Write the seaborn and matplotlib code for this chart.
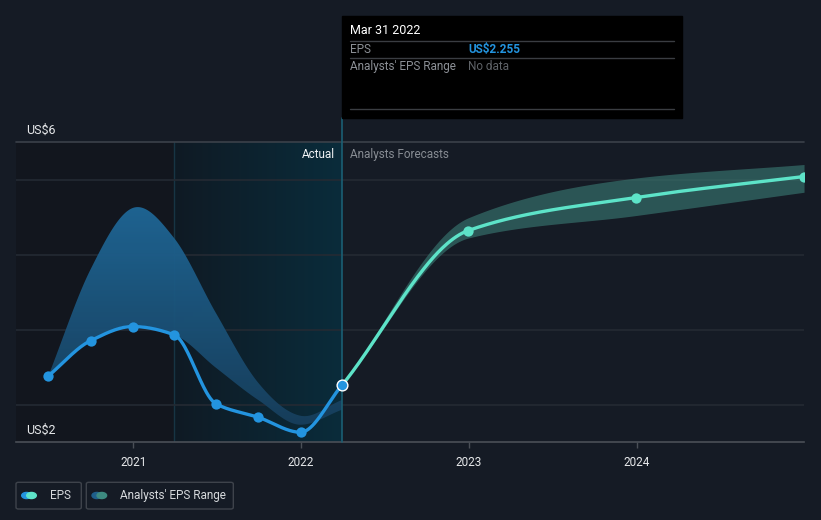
import numpy as np
import pandas as pd
import matplotlib
matplotlib.use("Agg")
import matplotlib.pyplot as plt
import seaborn as sns
from matplotlib.patches import FancyBboxPatch, Rectangle, Circle
from matplotlib.lines import Line2D
from matplotlib.colors import LinearSegmentedColormap

# ---------------- data ----------------
actual_dates = ["2020-06-30", "2020-09-30", "2020-12-31", "2021-03-31",
                "2021-06-30", "2021-09-30", "2021-12-31", "2022-03-31"]
actual_eps = [2.38, 2.85, 3.04, 2.93, 2.01, 1.83, 1.63, 2.255]

past_range_low = [2.38, 2.85, 3.06, 2.93, 2.49, 2.06, 1.73, 1.93]
past_range_high = [2.38, 3.80, 4.62, 4.22, 3.22, 2.29, 1.85, 2.06]

forecast_dates = ["2022-03-31", "2022-12-31", "2023-12-31", "2024-12-31"]
forecast_eps = [2.255, 4.32, 4.76, 5.04]
forecast_low = [2.255, 4.22, 4.52, 4.83]
forecast_high = [2.255, 4.49, 5.02, 5.20]

year_ticks = [2021, 2022, 2023, 2024]
y_labels = ["US$6", "US$2"]

# ---------------- helpers ----------------
def dec_year(s):
    t = pd.Timestamp(s)
    return t.year + (t.dayofyear - 1) / (366 if t.is_leap_year else 365)

def hermite(x, y, m, n=300):
    x = np.asarray(x, float); y = np.asarray(y, float)
    h = np.diff(x)
    xs = np.linspace(x[0], x[-1], n)
    idx = np.clip(np.searchsorted(x, xs) - 1, 0, len(x) - 2)
    t = (xs - x[idx]) / h[idx]
    h00 = 2 * t**3 - 3 * t**2 + 1; h10 = t**3 - 2 * t**2 + t
    h01 = -2 * t**3 + 3 * t**2; h11 = t**3 - t**2
    ys = h00 * y[idx] + h10 * h[idx] * m[idx] + h01 * y[idx + 1] + h11 * h[idx] * m[idx + 1]
    return xs, ys

def monotone(x, y, n=300):
    x = np.asarray(x, float); y = np.asarray(y, float)
    h = np.diff(x); d = np.diff(y) / h
    m = np.zeros_like(y)
    m[0] = d[0]; m[-1] = d[-1]
    for i in range(1, len(y) - 1):
        if d[i - 1] * d[i] <= 0:
            m[i] = 0
        else:
            w1 = 2 * h[i] + h[i - 1]; w2 = h[i] + 2 * h[i - 1]
            m[i] = (w1 + w2) / (w1 / d[i - 1] + w2 / d[i])
    return hermite(x, y, m, n)

def cardinal(x, y, n=300):
    x = np.asarray(x, float); y = np.asarray(y, float)
    m = np.zeros_like(y)
    m[1:-1] = (y[2:] - y[:-2]) / (x[2:] - x[:-2])
    m[0] = (y[1] - y[0]) / (x[1] - x[0])
    m[-1] = (y[-1] - y[-2]) / (x[-1] - x[-2])
    return hermite(x, y, m, n)

ax_x = [dec_year(d) for d in actual_dates]
fx = [dec_year(d) for d in forecast_dates]

# ---------------- figure ----------------
BG = "#151b25"
sns.set_theme(style="dark")
plt.rcParams["font.family"] = ["Roboto", "DejaVu Sans"]

fig = plt.figure(figsize=(8.21, 5.2), dpi=100, facecolor=BG)
W, H = 821, 520
ax = fig.add_axes([16 / W, 78 / H, 788 / W, 300 / H])
ax.set_facecolor(BG)
XMIN, XMAX = 2020.302, 2024.997
ax.set_xlim(XMIN, XMAX)
ax.set_ylim(1.5, 5.5)

# background regions
x_start_hl = dec_year("2021-03-31")
x_now = dec_year("2022-03-31")
ax.axvspan(XMIN, x_start_hl, color="#12161e", zorder=0, lw=0)
grad = np.linspace(0, 1, 256).reshape(1, -1)
hl_cmap = LinearSegmentedColormap.from_list("hl", ["#0f1a24", "#0a2c3b"])
ax.imshow(grad, extent=[x_start_hl, x_now, 1.5, 5.5], aspect="auto",
          cmap=hl_cmap, zorder=0.5, interpolation="bicubic")
ax.axvline(x_start_hl, color="#173544", lw=1, zorder=1)

# gridlines
for v in [2, 3, 4, 5]:
    ax.axhline(v, color="#242a33", lw=1.2, zorder=1)
ax.axhline(5.5, color="#3b414a", lw=1.2, zorder=1, clip_on=False)

# past analysts range with gradient
bx, bhi = cardinal(ax_x, past_range_high)
_, blo = monotone(ax_x, past_range_low)
poly = ax.fill_between(bx, blo, bhi, color="none", lw=0, zorder=2)
band_cmap = LinearSegmentedColormap.from_list("band", ["#173d5a", "#1f6898"])
vgrad = np.linspace(0, 1, 256).reshape(-1, 1)
im = ax.imshow(vgrad, extent=[bx[0], bx[-1], 1.6, 4.65], origin="lower",
               aspect="auto", cmap=band_cmap, zorder=2, alpha=0.95)
im.set_clip_path(poly.get_paths()[0], transform=ax.transData)

# forecast range
fxs, fhi = monotone(fx, forecast_high)
_, flo = monotone(fx, forecast_low)
ax.fill_between(fxs, flo, fhi, color="#3a7a73", alpha=0.62, lw=0, zorder=2)

# lines
axs, ays = monotone(ax_x, actual_eps)
fxs2, fys2 = monotone(fx, forecast_eps)
sns.lineplot(x=axs, y=ays, ax=ax, color="#2394df", lw=2.4, zorder=4, sort=False)
sns.lineplot(x=fxs2, y=fys2, ax=ax, color="#5de3c8", lw=2.4, zorder=4, sort=False)
sns.scatterplot(x=ax_x[:-1], y=actual_eps[:-1], ax=ax, color="#2394df", s=55,
                linewidth=0, zorder=5)
sns.scatterplot(x=fx[1:], y=forecast_eps[1:], ax=ax, color="#5de3c8", s=55,
                linewidth=0, zorder=5)
sns.scatterplot(x=[ax_x[-1]], y=[actual_eps[-1]], ax=ax, color="#2394df", s=60,
                edgecolor="white", linewidth=1.0, zorder=6)

# current date vertical line (extends to tooltip)
ax.axvline(x_now, ymin=0, ymax=(442 - 118) / 300, color="#1a5f74", lw=1.2,
           zorder=3, clip_on=False)

# spines / ticks
for s in ["top", "right", "left"]:
    ax.spines[s].set_visible(False)
ax.spines["bottom"].set_visible(True)
ax.spines["bottom"].set_color("#4a4f57")
ax.spines["bottom"].set_linewidth(1.2)
ax.set_yticks([])
ax.set_xticks(year_ticks)
ax.set_xticklabels([str(y) for y in year_ticks], color="#e6e8ea", fontsize=8.5)
ax.tick_params(axis="x", length=4, width=1, color="#4a4f57", pad=6, bottom=True)
ax.grid(False)
ax.set_xlabel(""); ax.set_ylabel("")

def fx_(px): return px / W
def fy_(py): return 1 - py / H

# y labels
fig.text(fx_(26), fy_(130), y_labels[0], color="#e6e8ea", fontsize=9, va="center")
fig.text(fx_(26), fy_(430), y_labels[1], color="#e6e8ea", fontsize=9, va="center")

# Actual / forecast labels
fig.text(fx_(335), fy_(154), "Actual", color="#f0f2f4", fontsize=8.5, ha="right", va="center")
fig.text(fx_(350), fy_(154), "Analysts Forecasts", color="#878c93", fontsize=8.5,
         ha="left", va="center")

# tooltip
fig.patches.append(Rectangle((fx_(342), fy_(117.7)), (682 - 342) / W, (117.7 - 16) / H,
                             transform=fig.transFigure, color="#000000", zorder=10))
def hline(py):
    fig.lines.append(Line2D([fx_(350), fx_(674)], [fy_(py), fy_(py)],
                            transform=fig.transFigure, color="#3a3d42", lw=1, zorder=11))
hline(41.3); hline(58.3); hline(109)
fig.text(fx_(350), fy_(31), "Mar 31 2022", color="#ffffff", fontsize=9, va="center", zorder=12)
fig.text(fx_(350), fy_(49.5), "EPS", color="#8c9096", fontsize=8.5, va="center", zorder=12)
fig.text(fx_(468), fy_(49.5), "US$2.255", color="#2394df", fontsize=8.5, va="center",
         fontweight="bold", zorder=12)
fig.text(fx_(350), fy_(66.5), "Analysts' EPS Range", color="#8c9096", fontsize=8.5,
         va="center", zorder=12)
fig.text(fx_(468), fy_(66.5), "No data", color="#5f6368", fontsize=8.5, va="center", zorder=12)

# legend
def legbox(x0, x1, c1, c2, label, tx):
    fig.patches.append(FancyBboxPatch((fx_(x0), fy_(509)), (x1 - x0) / W, (509 - 482.3) / H,
                                      boxstyle="round,pad=0,rounding_size=0.003",
                                      transform=fig.transFigure, facecolor="none",
                                      edgecolor="#3e434b", lw=1))
    for cx, col in [(x0 + 10.5, c1), (x0 + 15.5, c2)]:
        fig.patches.append(Circle((fx_(cx), fy_(495.5)), 4.8 / W,
                                  transform=fig.transFigure, color=col))
    fig.text(fx_(tx), fy_(495.5), label, color="#d6d9dc", fontsize=8.5, va="center")

legbox(16, 81.3, "#2394df", "#5de3c8", "EPS", 50)
legbox(86.3, 233.3, "#1f5f8b", "#3d8a80", "Analysts' EPS Range", 120)

fig.savefig("out.png", dpi=100, facecolor=BG)
